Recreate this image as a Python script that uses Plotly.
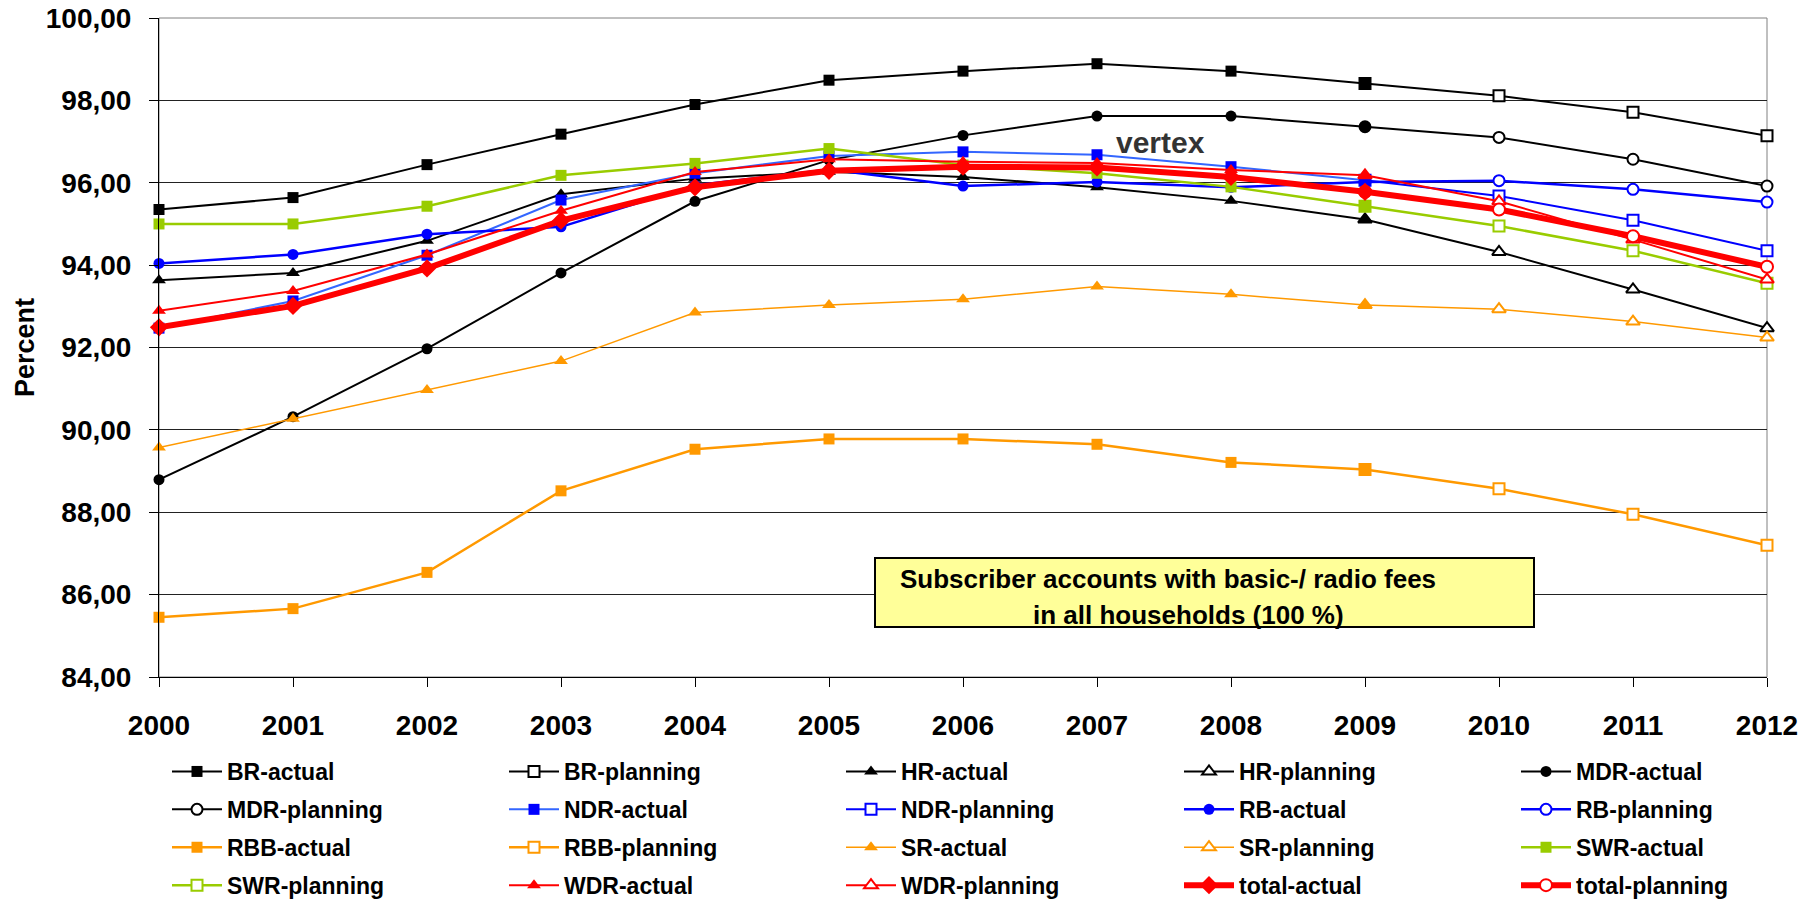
import plotly.graph_objects as go

# ---- data -------------------------------------------------------------
years = [2000, 2001, 2002, 2003, 2004, 2005, 2006, 2007, 2008, 2009, 2010, 2011, 2012]
actual_years = years[:10]          # 2000-2009 actual
planning_years = years[10:]        # 2010-2012 planning

BR_actual = [95.35, 95.64, 96.44, 97.18, 97.90, 98.49, 98.71, 98.89, 98.71, 98.41]
BR_planning = [98.11, 97.71, 97.14]
HR_actual = [93.63, 93.81, 94.59, 95.72, 96.10, 96.27, 96.14, 95.89, 95.56, 95.11]
HR_planning = [94.32, 93.41, 92.47]
MDR_actual = [88.79, 90.32, 91.97, 93.81, 95.55, 96.55, 97.15, 97.62, 97.62, 97.36]
MDR_planning = [97.10, 96.57, 95.92]
NDR_actual = [92.47, 93.13, 94.24, 95.58, 96.23, 96.65, 96.75, 96.68, 96.39, 96.06]
NDR_planning = [95.68, 95.09, 94.35]
RB_actual = [94.04, 94.26, 94.75, 94.93, 95.94, 96.32, 95.92, 96.02, 95.89, 96.02]
RB_planning = [96.05, 95.84, 95.53]
RBB_actual = [85.45, 85.66, 86.54, 88.52, 89.53, 89.78, 89.78, 89.65, 89.21, 89.04]
RBB_planning = [88.57, 87.95, 87.20]
SR_actual = [89.57, 90.27, 90.97, 91.67, 92.85, 93.03, 93.17, 93.48, 93.29, 93.03]
SR_planning = [92.93, 92.63, 92.24]
SWR_actual = [95.00, 95.00, 95.43, 96.18, 96.47, 96.83, 96.43, 96.23, 95.90, 95.43]
SWR_planning = [94.95, 94.35, 93.56]
WDR_actual = [92.89, 93.37, 94.26, 95.32, 96.26, 96.57, 96.51, 96.48, 96.31, 96.18]
WDR_planning = [95.55, 94.62, 93.65]
total_actual = [92.49, 93.01, 93.92, 95.08, 95.89, 96.29, 96.39, 96.37, 96.14, 95.78]
total_planning = [95.35, 94.70, 93.96]

x_tick_labels = [str(y) for y in years]
y_tick_values = [84, 86, 88, 90, 92, 94, 96, 98, 100]
y_tick_labels = ["84,00", "86,00", "88,00", "90,00", "92,00", "94,00", "96,00", "98,00", "100,00"]

# ---- styling per broadcaster -------------------------------------------
# name, actual, planning, line colour (actual), line colour (planning),
# marker colour, symbol (actual), symbol (planning), line width, marker size
series = [
    ("BR", BR_actual, BR_planning, "#000000", "#000000", "#000000", "square", "square", 2, 11),
    ("HR", HR_actual, HR_planning, "#000000", "#000000", "#000000", "triangle-up", "triangle-up", 2, 12),
    ("MDR", MDR_actual, MDR_planning, "#000000", "#000000", "#000000", "circle", "circle", 2, 11),
    ("NDR", NDR_actual, NDR_planning, "#3366FF", "#0000FF", "#0000FF", "square", "square", 2, 11),
    ("RB", RB_actual, RB_planning, "#0000FF", "#0000FF", "#0000FF", "circle", "circle", 2.5, 11),
    ("RBB", RBB_actual, RBB_planning, "#FF9900", "#FF9900", "#FF9900", "square", "square", 2.5, 11),
    ("SR", SR_actual, SR_planning, "#FF9900", "#FF9900", "#FF9900", "triangle-up", "triangle-up", 1.5, 12),
    ("SWR", SWR_actual, SWR_planning, "#99CC00", "#99CC00", "#99CC00", "square", "square", 2.5, 11),
    ("WDR", WDR_actual, WDR_planning, "#FF0000", "#FF0000", "#FF0000", "triangle-up", "triangle-up", 2, 12),
    ("total", total_actual, total_planning, "#FF0000", "#FF0000", "#FF0000", "diamond", "circle", 6, 14),
]

FONT = "Liberation Sans, Arial, sans-serif"

fig = go.Figure()

# legend columns: 5 columns, 4 rows, filled row by row
n_cols = 5
legend_names = ["legend", "legend2", "legend3", "legend4", "legend5"]

for k, (name, act, plan, lc_a, lc_p, mc, sym_a, sym_p, lw, ms) in enumerate(series):
    idx_a = 2 * k
    idx_p = 2 * k + 1
    # planning line starts at the last actual year so the curve is continuous
    plan_x = [actual_years[-1]] + planning_years
    plan_y = [act[-1]] + plan
    psize = ms - 2 if sym_p == "circle" and sym_a != "circle" else ms
    fig.add_trace(go.Scatter(
        x=plan_x, y=plan_y, mode="lines+markers",
        name=f"{name}-planning",
        line=dict(color=lc_p, width=lw),
        marker=dict(symbol=sym_p, size=psize, color="#FFFFFF",
                    line=dict(color=mc, width=2)),
        cliponaxis=False,
        legend=legend_names[idx_p % n_cols],
        legendgroup=f"{name}-planning",
        legendrank=idx_p + 1,
    ))
    fig.add_trace(go.Scatter(
        x=actual_years, y=act, mode="lines+markers",
        name=f"{name}-actual",
        line=dict(color=lc_a, width=lw),
        marker=dict(symbol=sym_a, size=ms, color=mc, line=dict(width=0)),
        cliponaxis=False,
        legend=legend_names[idx_a % n_cols],
        legendgroup=f"{name}-actual",
        legendrank=idx_a + 1,
    ))

W, H = 1813, 902
ml, mr, mt, mb = 159, 46, 18, 225

layout_legends = {}
col_left = [167, 504, 841, 1179, 1516]
for c, lname in enumerate(legend_names):
    layout_legends[lname] = dict(
        x=col_left[c] / W, xref="container", xanchor="left",
        y=1 - 750 / H, yref="container", yanchor="top",
        orientation="v", bgcolor="rgba(0,0,0,0)", borderwidth=0,
        tracegroupgap=5, itemwidth=50,
        font=dict(family=FONT, size=23, color="#000000", weight="bold"),
    )

fig.update_layout(
    width=W, height=H,
    margin=dict(l=ml, r=mr, t=mt, b=mb, pad=0, autoexpand=False),
    paper_bgcolor="#FFFFFF", plot_bgcolor="#FFFFFF",
    showlegend=True,
    **layout_legends,
    xaxis=dict(
        range=[2000, 2012], tickmode="array", tickvals=years, ticktext=x_tick_labels,
        showgrid=False, zeroline=False, automargin=False,
        showline=True, linecolor="#000000", linewidth=1,
        ticks="outside", ticklen=9, tickcolor="#000000", tickwidth=1,
        ticklabelstandoff=14,
        tickfont=dict(family=FONT, size=28, color="#000000", weight="bold"),
    ),
    yaxis=dict(
        range=[84, 100], tickmode="array", tickvals=y_tick_values, ticktext=y_tick_labels,
        showgrid=True, gridcolor="#222222", gridwidth=1, zeroline=False, automargin=False,
        showline=True, linecolor="#000000", linewidth=1,
        ticks="outside", ticklen=9, tickcolor="#000000", tickwidth=1,
        ticklabelstandoff=12,
        tickfont=dict(family=FONT, size=28, color="#000000", weight="bold"),
    ),
)

# plot-area frame (grey, as on the right edge)
fig.add_shape(type="rect", xref="paper", yref="paper", x0=0, x1=1, y0=0, y1=1,
              line=dict(color="#808080", width=1), layer="below")

# y-axis title
fig.add_annotation(text="Percent", xref="paper", yref="paper",
                   x=(24.5 - ml) / (W - ml - mr), y=0.5, xanchor="center", yanchor="middle",
                   textangle=-90, showarrow=False,
                   font=dict(family=FONT, size=27, color="#000000", weight="bold"))

# "vertex" label
fig.add_annotation(text="vertex", xref="x", yref="y", x=2007.475, y=96.98,
                   showarrow=False, xanchor="center", yanchor="middle",
                   font=dict(family=FONT, size=30, color="#333333", weight="bold"))

# yellow note box
pw = W - ml - mr
ph = H - mt - mb
def px_x(v):
    return (v - ml) / pw
def px_y(v):
    return (H - mb - v) / ph

fig.add_shape(type="rect", xref="paper", yref="paper",
              x0=px_x(875), x1=px_x(1534), y0=px_y(627), y1=px_y(558),
              fillcolor="#FFFF99", line=dict(color="#000000", width=2), layer="above")
fig.add_annotation(text="Subscriber accounts with basic-/ radio fees",
                   xref="paper", yref="paper", x=px_x(1168), y=px_y(579),
                   xanchor="center", yanchor="middle", showarrow=False,
                   font=dict(family=FONT, size=26, color="#000000", weight="bold"))
fig.add_annotation(text="in all households (100 %)",
                   xref="paper", yref="paper", x=px_x(1188), y=px_y(615),
                   xanchor="center", yanchor="middle", showarrow=False,
                   font=dict(family=FONT, size=26, color="#000000", weight="bold"))

fig.write_html("out.html")
